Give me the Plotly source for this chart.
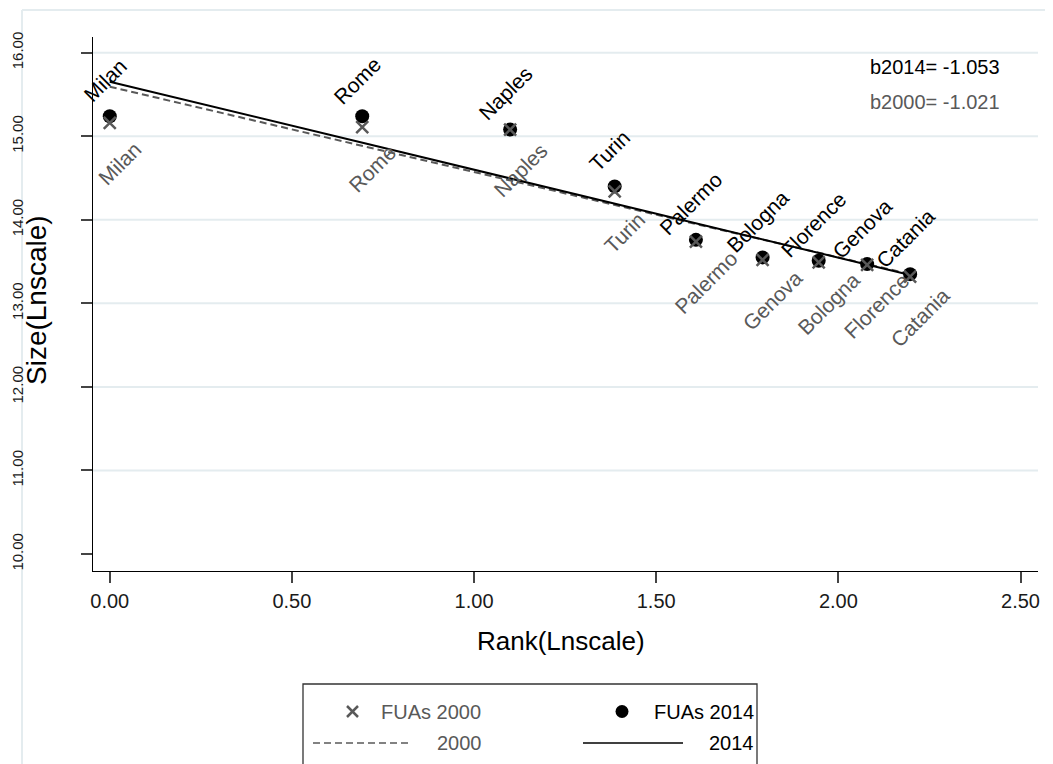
import plotly.graph_objects as go

# ---------------- data ----------------
cities_2014 = ["Milan", "Rome", "Naples", "Turin", "Palermo", "Bologna", "Florence", "Genova", "Catania"]
cities_2000 = ["Milan", "Rome", "Naples", "Turin", "Palermo", "Genova", "Bologna", "Florence", "Catania"]
rank_ln = [0.000, 0.693, 1.099, 1.386, 1.609, 1.792, 1.946, 2.079, 2.197]
size_2014 = [15.24, 15.24, 15.08, 14.40, 13.76, 13.55, 13.51, 13.47, 13.35]
size_2000 = [15.16, 15.11, 15.08, 14.34, 13.74, 13.52, 13.49, 13.46, 13.32]
slope_2014 = -1.053
slope_2000 = -1.021
intercept_2014 = 15.653
intercept_2000 = 15.593
x_ticks = [0.0, 0.5, 1.0, 1.5, 2.0, 2.5]
x_ticktext = ["0.00", "0.50", "1.00", "1.50", "2.00", "2.50"]
y_ticks = [10, 11, 12, 13, 14, 15, 16]
y_ticktext = ["10.00", "11.00", "12.00", "13.00", "14.00", "15.00", "16.00"]

# ---------------- layout helpers ----------------
OFF = 8                      # page body margin of the browser
W, H = 1053 - OFF, 764 - OFF
# plot area in page pixels: x 93..1038, y 37..571
L = 93 - OFF
T = 37 - OFF
R = W - (1038 - OFF)
B = H - (571 - OFF)
PW, PH = W - L - R, H - T - B


def px(x):
    """page pixel x -> paper coordinate"""
    return (x - OFF - L) / PW


def py(y):
    """page pixel y -> paper coordinate"""
    return (T + PH - (y - OFF)) / PH


BLACK = "#000000"
GRAY = "#595959"
GRID = "#e4ecef"
FONT = "Arial, Liberation Sans, sans-serif"

fig = go.Figure()

xs = [rank_ln[0], rank_ln[-1]]
fig.add_trace(go.Scatter(x=xs, y=[intercept_2000 + slope_2000 * v for v in xs], mode="lines",
                         line=dict(color=GRAY, width=2, dash="7px,4px"), name="2000"))
fig.add_trace(go.Scatter(x=xs, y=[intercept_2014 + slope_2014 * v for v in xs], mode="lines",
                         line=dict(color=BLACK, width=2), name="2014"))
fig.add_trace(go.Scatter(x=rank_ln, y=size_2014, mode="markers", name="FUAs 2014",
                         marker=dict(symbol="circle", size=14, color=BLACK)))
fig.add_trace(go.Scatter(x=rank_ln, y=size_2000, mode="markers", name="FUAs 2000",
                         marker=dict(symbol="x-thin", size=12, color=GRAY, line=dict(color=GRAY, width=2.5))))

# point labels
for xv, yv, name in zip(rank_ln, size_2014, cities_2014):
    fig.add_annotation(x=xv, y=yv, text=name, showarrow=False, textangle=-45,
                       xshift=-5, yshift=36, font=dict(size=21, color=BLACK, family=FONT))
for xv, yv, name in zip(rank_ln, size_2000, cities_2000):
    fig.add_annotation(x=xv, y=yv, text=name, showarrow=False, textangle=-45,
                       xshift=10, yshift=-41, font=dict(size=21, color=GRAY, family=FONT))

# slope texts
fig.add_annotation(xref="paper", yref="paper", x=px(868), y=py(67), xanchor="left", yanchor="middle",
                   text=f"b2014= {slope_2014:.3f}", showarrow=False, font=dict(size=20, color=BLACK, family=FONT))
fig.add_annotation(xref="paper", yref="paper", x=px(868), y=py(102), xanchor="left", yanchor="middle",
                   text=f"b2000= {slope_2000:.3f}", showarrow=False, font=dict(size=20, color=GRAY, family=FONT))

# axis titles
fig.add_annotation(xref="paper", yref="paper", x=px(561), y=py(641), xanchor="center", yanchor="middle",
                   text="Rank(Lnscale)", showarrow=False, font=dict(size=26, color=BLACK, family=FONT))
fig.add_annotation(xref="paper", yref="paper", x=px(36), y=py(300), xanchor="center", yanchor="middle",
                   text="Size(Lnscale)", textangle=-90, showarrow=False, font=dict(size=28, color=BLACK, family=FONT))

shapes = []
# gridlines
for v in y_ticks[1:]:
    shapes.append(dict(type="line", xref="paper", yref="y", x0=0, x1=1, y0=v, y1=v,
                       line=dict(color=GRID, width=2), layer="below"))
# outer frame (top and left edges visible)
shapes.append(dict(type="line", xref="paper", yref="paper", x0=px(22), x1=px(1070), y0=py(10), y1=py(10),
                   line=dict(color=GRID, width=2), layer="below"))
shapes.append(dict(type="line", xref="paper", yref="paper", x0=px(22), x1=px(22), y0=py(10), y1=py(800),
                   line=dict(color=GRID, width=2), layer="below"))
# legend box
shapes.append(dict(type="rect", xref="paper", yref="paper", x0=px(303), x1=px(757), y0=py(800), y1=py(684),
                   line=dict(color="#333333", width=1.3), fillcolor="rgba(0,0,0,0)", layer="above"))
# legend symbols
shapes.append(dict(type="line", xref="paper", yref="paper", x0=px(347), x1=px(358), y0=py(706), y1=py(717),
                   line=dict(color=GRAY, width=2.5), layer="above"))
shapes.append(dict(type="line", xref="paper", yref="paper", x0=px(347), x1=px(358), y0=py(717), y1=py(706),
                   line=dict(color=GRAY, width=2.5), layer="above"))
shapes.append(dict(type="circle", xref="paper", yref="paper", x0=px(615.5), x1=px(628.5), y0=py(718), y1=py(705),
                   fillcolor=BLACK, line=dict(color=BLACK, width=0), layer="above"))
shapes.append(dict(type="line", xref="paper", yref="paper", x0=px(313), x1=px(412), y0=py(743), y1=py(743),
                   line=dict(color=GRAY, width=1.5, dash="7px,4px"), layer="above"))
shapes.append(dict(type="line", xref="paper", yref="paper", x0=px(583), x1=px(683), y0=py(743), y1=py(743),
                   line=dict(color=BLACK, width=1.5), layer="above"))

legend_texts = [("FUAs 2000", 379, 712, GRAY), ("2000", 435, 743, GRAY),
                ("FUAs 2014", 652, 712, BLACK), ("2014", 707, 743, BLACK)]
for txt, lx, ly, col in legend_texts:
    fig.add_annotation(xref="paper", yref="paper", x=px(lx), y=py(ly), xanchor="left", yanchor="middle",
                       text=txt, showarrow=False, font=dict(size=20, color=col, family=FONT))

fig.update_layout(
    width=W, height=H,
    margin=dict(l=L, r=R, t=T, b=B, autoexpand=False),
    paper_bgcolor="white", plot_bgcolor="white",
    showlegend=False,
    shapes=shapes,
    font=dict(family=FONT, color=BLACK),
    xaxis=dict(range=[-0.046, 2.548], tickvals=x_ticks, ticktext=x_ticktext, ticks="outside", ticklen=11,
               tickwidth=1.5, tickcolor="#444444", showline=True, linecolor=BLACK, linewidth=1.3,
               showgrid=False, zeroline=False, automargin=False, ticklabelstandoff=1,
               tickfont=dict(size=20, color="#1a1a1a", family=FONT)),
    yaxis=dict(range=[9.797, 16.188], tickvals=y_ticks, ticktext=y_ticktext, ticks="outside", ticklen=11,
               tickwidth=1.5, tickcolor="#444444", showline=True, linecolor=BLACK, linewidth=1.3,
               showgrid=False, zeroline=False, automargin=False, tickangle=-90, ticklabelstandoff=52,
               tickfont=dict(size=15, color="#1a1a1a", family=FONT)),
)

fig.write_html("out.html")
